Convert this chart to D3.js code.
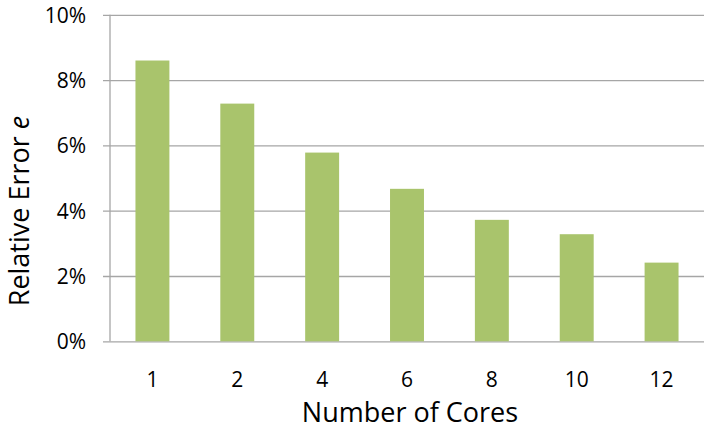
<!DOCTYPE html>
<html>
<head>
<meta charset="utf-8">
<script src="https://cdn.jsdelivr.net/npm/d3@7"></script>
<style>
	body { margin: 0; background: #fff; }
	text { font-family: "Open Sans", Lato, sans-serif; fill: #000; }
</style>
</head>
<body>
<svg id="chart" width="714" height="435"></svg>
<script>
	// values (percent)
	const cores = ["1", "2", "4", "6", "8", "10", "12"];
	const relError = [8.6, 7.28, 5.78, 4.67, 3.72, 3.28, 2.41];
	const yTicks = [0, 2, 4, 6, 8, 10];

	(function() {
		let svg = d3.select("#chart"),
			left = 110,
			right = 704,
			top = 14.8,
			bottom = 341.3;

		let x = d3.scaleBand()
			.domain(cores)
			.range([left, right])
			.paddingInner(0.6)
			.paddingOuter(0.3);

		let y = d3.scaleLinear()
			.domain([0, 10])
			.range([bottom, top]);

		// gridlines + left ticks
		let yAxis = d3.axisLeft(y)
			.tickValues(yTicks)
			.tickSize(-(right - left))
			.tickSizeOuter(0)
			.tickPadding(24)
			.tickFormat(d => d + "%");

		let gy = svg.append("g")
			.attr("transform", "translate(" + left + ",0)")
			.call(yAxis);
		gy.select(".domain").remove();
		gy.selectAll(".tick line")
			.attr("x1", -7)
			.attr("stroke", "#a6a6a6")
			.attr("stroke-width", 1.3);
		gy.selectAll(".tick text")
			.style("font-size", "21px")
			.attr("dy", "0.36em");

		// bars
		svg.append("g")
			.selectAll("rect")
			.data(relError)
			.enter()
			.append("rect")
			.attr("x", (d, i) => x(cores[i]))
			.attr("y", d => y(d))
			.attr("width", x.bandwidth())
			.attr("height", d => y(0) - y(d))
			.attr("fill", "#a9c46c");

		// vertical axis line
		svg.append("line")
			.attr("x1", left).attr("x2", left)
			.attr("y1", top).attr("y2", bottom)
			.attr("stroke", "#a6a6a6")
			.attr("stroke-width", 1.3);

		// bottom axis (labels only)
		let gx = svg.append("g")
			.attr("transform", "translate(0," + bottom + ")")
			.call(d3.axisBottom(x).tickSize(0).tickPadding(46));
		gx.select(".domain").remove();
		gx.selectAll(".tick text")
			.style("font-size", "21px")
			.attr("dy", "0");

		// axis titles
		svg.append("text")
			.attr("x", 410)
			.attr("y", 422)
			.attr("text-anchor", "middle")
			.style("font-size", "27px")
			.text("Number of Cores");

		let yl = svg.append("text")
			.attr("transform", "translate(29,211) rotate(-90)")
			.attr("text-anchor", "middle")
			.style("font-size", "27px");
		yl.append("tspan").text("Relative Error ");
		yl.append("tspan").style("font-style", "italic").text("e");
	})();
</script>
</body>
</html>
